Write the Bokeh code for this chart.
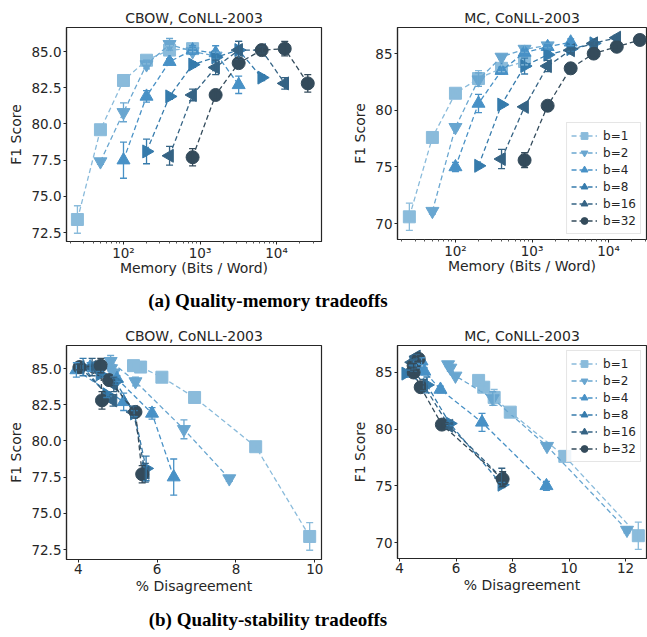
import math
from bokeh.plotting import figure
from bokeh.models import (FixedTicker, Whisker, TeeHead, ColumnDataSource, Legend,
                          LegendItem, Div, Range1d)
from bokeh.layouts import column, row
from bokeh.embed import file_html
from bokeh.resources import INLINE

# ---------------- data ----------------
LABELS = ["b=1", "b=2", "b=4", "b=8", "b=16", "b=32"]

# memory (bits / word) = dimension x precision
MEMORY = [
    [25, 50, 100, 200, 400, 800],
    [50, 100, 200, 400, 800, 1600],
    [100, 200, 400, 800, 1600, 3200],
    [200, 400, 800, 1600, 3200, 6400],
    [400, 800, 1600, 3200, 6400, 12800],
    [800, 1600, 3200, 6400, 12800, 25600],
]

CBOW_F1 = [
    [73.4, 79.6, 83.0, 84.4, 85.1, 85.2],
    [77.4, 80.8, 84.1, 85.5, 85.0, 84.7],
    [77.5, 81.9, 84.3, 85.1, 84.9, 82.7],
    [78.1, 81.9, 84.1, 84.6, 85.1, 83.2],
    [77.8, 82.0, 83.9, 85.1, 85.1, 82.8],
    [77.7, 82.0, 84.2, 85.1, 85.2, 82.8],
]
CBOW_ERR = [
    [0.95, 0.15, 0.2, 0.25, 0.3, 0.2],
    [0.2, 0.65, 0.3, 0.4, 0.2, 0.25],
    [1.25, 0.4, 0.2, 0.3, 0.5, 0.6],
    [0.85, 0.2, 0.2, 0.2, 0.6, 0.2],
    [0.65, 0.4, 0.5, 0.6, 0.2, 0.4],
    [0.6, 0.2, 0.3, 0.2, 0.5, 0.6],
]
CBOW_DIS = [
    [9.87, 8.5, 6.95, 6.12, 5.58, 5.4],
    [7.83, 6.68, 5.45, 4.82, 4.83, 4.9],
    [6.42, 5.87, 4.98, 4.3, 3.95, 5.15],
    [5.72, 5.42, 4.95, 4.55, 4.12, 4.72],
    [5.7, 5.4, 4.9, 4.35, 4.05, 4.88],
    [5.62, 5.45, 4.78, 4.03, 4.57, 4.6],
]

MC_F1 = [
    [70.6, 77.6, 81.5, 82.8, 83.7, 84.3],
    [71.1, 78.5, 82.7, 84.7, 85.4, 85.7],
    [75.0, 80.6, 83.5, 85.1, 85.6, 86.0],
    [75.1, 80.5, 83.9, 84.9, 85.4, 85.9],
    [75.7, 80.3, 83.9, 85.3, 85.9, 86.4],
    [75.6, 80.4, 83.7, 85.0, 85.6, 86.2],
]
MC_ERR = [
    [1.2, 0.2, 0.2, 0.7, 0.3, 0.3],
    [0.25, 0.2, 0.6, 0.2, 0.3, 0.2],
    [0.4, 0.8, 0.3, 0.3, 0.2, 0.3],
    [0.2, 0.2, 0.7, 0.3, 0.2, 0.2],
    [0.85, 0.2, 0.5, 0.2, 0.2, 0.2],
    [0.65, 0.2, 0.2, 0.2, 0.2, 0.2],
]
MC_DIS = [
    [12.45, 9.85, 7.92, 7.35, 6.98, 6.8],
    [12.05, 9.22, 7.3, 5.98, 5.8, 5.72],
    [9.2, 6.92, 5.45, 4.88, 4.6, 4.78],
    [7.62, 5.78, 4.97, 4.22, 4.45, 4.5],
    [7.62, 5.75, 4.85, 4.5, 4.45, 4.6],
    [7.65, 5.5, 4.75, 4.5, 4.5, 4.68],
]

CBOW_YTICKS = [72.5, 75.0, 77.5, 80.0, 82.5, 85.0]
CBOW_YLABELS = ["72.5", "75.0", "77.5", "80.0", "82.5", "85.0"]
MC_YTICKS = [70, 75, 80, 85]
MC_YLABELS = ["70", "75", "80", "85"]
MEM_XTICKS = [100, 1000, 10000]
MEM_XLABELS = ["10²", "10³", "10⁴"]
CBOW_DIS_XTICKS = [4, 6, 8, 10]
MC_DIS_XTICKS = [4, 6, 8, 10, 12]

# ---------------- style ----------------
COLORS = ["#8abbdb", "#69a6d0", "#4891c6", "#367bac", "#356384", "#344b5b"]
MARKERS = ["square", "inverted_triangle", "triangle", "triangle", "triangle", "circle"]
ANGLES = [0, 0, 0, -math.pi / 2, math.pi / 2, 0]
SIZES = [12, 13, 13, 13, 13, 13]
FONT = "DejaVu Sans"
INK = "#262626"

MINOR_LOG = [m * 10 ** e for e in range(1, 5) for m in range(2, 10)]


def panel(title, xs, ys, errs, xlog, xr, yr, yticks, ylabels, xticks, xlabels,
          xlabel, fw, fh, bl, br, bt, bb, legend_loc=None):
    p = figure(x_axis_type="log" if xlog else "linear",
               x_range=Range1d(*xr), y_range=Range1d(*yr),
               frame_width=fw, frame_height=fh,
               min_border_left=bl, min_border_right=br,
               min_border_top=bt, min_border_bottom=bb,
               output_backend="svg", toolbar_location=None,
               background_fill_color="white", border_fill_color="white",
               margin=0)
    p.title.text = title
    p.title.text_font = FONT
    p.title.text_font_size = "14px"
    p.title.text_font_style = "normal"
    p.title.text_color = INK
    p.title.align = "center"
    p.title.standoff = 3
    p.grid.visible = False
    p.outline_line_color = INK
    p.outline_line_width = 1.2
    p.outline_line_alpha = 1

    items = []
    for i in range(len(xs)):
        c = COLORS[i]
        src = ColumnDataSource(dict(
            x=xs[i], y=ys[i],
            upper=[a + b for a, b in zip(ys[i], errs[i])],
            lower=[a - b for a, b in zip(ys[i], errs[i])]))
        lr = p.line("x", "y", source=src, line_color=c, line_width=1.3,
                    line_dash="5 3")
        w = Whisker(source=src, base="x", upper="upper", lower="lower",
                    dimension="height", line_color=c, line_width=1.3,
                    upper_head=TeeHead(size=7, line_color=c, line_width=1.3),
                    lower_head=TeeHead(size=7, line_color=c, line_width=1.3),
                    level="glyph")
        p.add_layout(w)
        sr = p.scatter("x", "y", source=src, marker=MARKERS[i], size=SIZES[i],
                       angle=ANGLES[i], fill_color=c, line_color=c)
        items.append(LegendItem(label=LABELS[i], renderers=[lr, sr]))

    if legend_loc:
        lg = Legend(items=items, location=legend_loc)
        lg.label_text_font = FONT
        lg.label_text_font_size = "12px"
        lg.label_text_color = INK
        lg.glyph_height = 17
        lg.glyph_width = 26
        lg.label_height = 17
        lg.spacing = 0
        lg.padding = 4
        lg.margin = 5
        lg.label_standoff = 6
        lg.border_line_color = "#cccccc"
        lg.background_fill_alpha = 0.85
        p.add_layout(lg)

    xt = FixedTicker(ticks=xticks, minor_ticks=MINOR_LOG if xlog else [])
    p.xaxis.ticker = xt
    p.xaxis.major_label_overrides = {t: l for t, l in zip(xticks, xlabels)}
    p.yaxis.ticker = FixedTicker(ticks=yticks, minor_ticks=[])
    p.yaxis.major_label_overrides = {t: l for t, l in zip(yticks, ylabels)}
    p.xaxis.axis_label = xlabel
    p.yaxis.axis_label = "F1 Score"
    for ax in (p.xaxis, p.yaxis):
        ax.axis_label_text_font = FONT
        ax.axis_label_text_font_size = "14px"
        ax.axis_label_text_font_style = "normal"
        ax.axis_label_text_color = INK
        ax.major_label_text_font = FONT
        ax.major_label_text_font_size = "13.5px"
        ax.major_label_text_color = INK
        ax.major_tick_out = 3
        ax.major_tick_in = 0
        ax.minor_tick_out = 2
        ax.minor_tick_in = 0
        ax.major_tick_line_color = INK
        ax.minor_tick_line_color = "#555555"
        ax.axis_line_color = INK
        ax.axis_line_width = 1.2
    p.xaxis.major_label_standoff = 0 if xlog else 1
    p.xaxis.axis_label_standoff = -4 if xlog else 1
    p.yaxis.major_label_standoff = 2
    p.yaxis.axis_label_standoff = 4
    return p


f1 = panel("CBOW, CoNLL-2003", MEMORY, CBOW_F1, CBOW_ERR, True, (18, 38700),
           (71.88, 86.66), CBOW_YTICKS, CBOW_YLABELS, MEM_XTICKS, MEM_XLABELS,
           "Memory (Bits / Word)", 255, 214, 66, 10, 25, 43)
f2 = panel("MC, CoNLL-2003", MEMORY, MC_F1, MC_ERR, True, (17.5, 31300),
           (68.6, 87.3), MC_YTICKS, MC_YLABELS, MEM_XTICKS, MEM_XLABELS,
           "Memory (Bits / Word)", 249, 212, 66, 1, 27, 43, "bottom_right")
f3 = panel("CBOW, CoNLL-2003", CBOW_DIS, CBOW_F1, CBOW_ERR, False, (3.70, 10.17),
           (71.81, 86.59), CBOW_YTICKS, CBOW_YLABELS, CBOW_DIS_XTICKS,
           [str(t) for t in CBOW_DIS_XTICKS], "% Disagreement",
           255, 214, 66, 10, 23, 45)
f4 = panel("MC, CoNLL-2003", MC_DIS, MC_F1, MC_ERR, False, (3.93, 12.74),
           (68.59, 87.38), MC_YTICKS, MC_YLABELS, MC_DIS_XTICKS,
           [str(t) for t in MC_DIS_XTICKS], "% Disagreement",
           249, 213, 66, 1, 23, 46, "top_right")

CAP_STYLE = {"font-family": "Liberation Serif", "font-weight": "bold",
             "font-size": "19px", "color": "#000000", "text-align": "center",
             "width": "536px"}
cap_a = Div(text="(a) Quality-memory tradeoffs", width=536, height=40,
            margin=0, styles=dict(CAP_STYLE, **{"line-height": "38px"}))
cap_b = Div(text="(b) Quality-stability tradeoffs", width=536, height=32,
            margin=0, styles=dict(CAP_STYLE, **{"line-height": "32px"}))

layout = column(row(f1, f2, margin=0), cap_a, row(f3, f4, margin=0), cap_b,
                margin=0)
open("out.html", "w").write(file_html(layout, INLINE))
